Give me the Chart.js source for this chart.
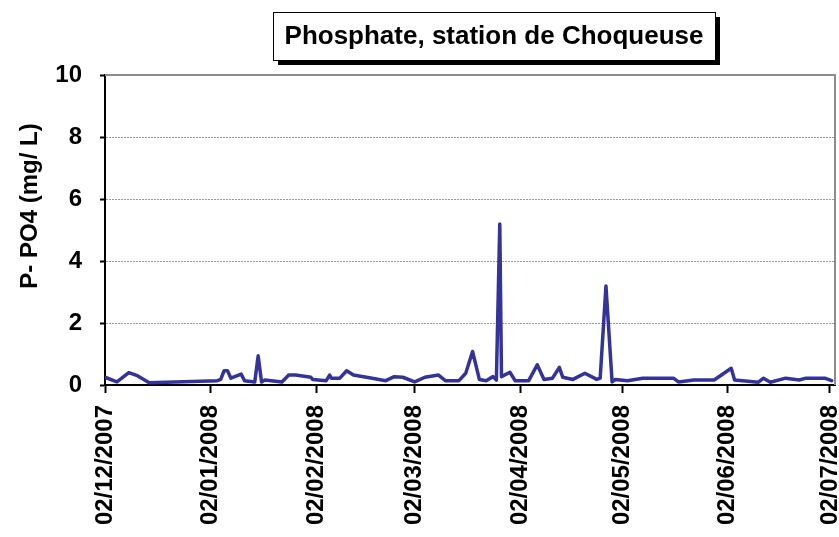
<!DOCTYPE html>
<html>
<head>
<meta charset="utf-8">
<script src="https://cdn.jsdelivr.net/npm/chart.js@4/dist/chart.umd.min.js"></script>
<style>
  html, body { margin: 0; padding: 0; background: #fff; }
  #wrap { width: 839px; height: 537px; }
</style>
</head>
<body>
<div id="wrap"><canvas id="po4Chart" width="839" height="537"></canvas></div>
<script>
// days counted from 02/12/2007
const sampleDays = [0, 3.5, 7, 9.5, 13, 33, 34, 35, 36, 37, 40, 41, 44, 45, 46, 47, 52, 54, 56, 60.5, 61,
  65, 66, 66.5, 69, 71, 73, 78.5, 82.5, 85, 87.5, 91, 94, 98, 100, 104, 106, 108, 110, 112, 114, 115,
  116, 116.5, 119, 120.5, 124.5, 127, 129, 131.5, 133.5, 134.5, 137.5, 141, 144.5, 145.5, 147.2, 149, 150,
  153.5, 158, 167, 168.5, 173, 179, 184, 185, 192, 193.5, 195.5, 200, 204, 206, 211.5, 213.5];
const po4Values = [0.25, 0.1, 0.4, 0.3, 0.07, 0.14, 0.18, 0.46, 0.46, 0.22, 0.35, 0.14, 0.1, 0.94, 0.1, 0.16, 0.1, 0.32, 0.32, 0.25, 0.18,
  0.14, 0.32, 0.22, 0.22, 0.46, 0.32, 0.22, 0.14, 0.27, 0.25, 0.1, 0.25, 0.32, 0.14, 0.14, 0.38, 1.08, 0.18, 0.14, 0.27, 0.16,
  5.19, 0.27, 0.41, 0.14, 0.14, 0.65, 0.18, 0.22, 0.57, 0.25, 0.18, 0.38, 0.18, 0.22, 3.19, 0.1, 0.18,
  0.14, 0.22, 0.22, 0.1, 0.16, 0.16, 0.54, 0.16, 0.09, 0.22, 0.09, 0.22, 0.16, 0.22, 0.22, 0.14];

const tickDays = [0, 31, 62, 91, 122, 152, 183, 213];
const tickLabels = ['02/12/2007', '02/01/2008', '02/02/2008', '02/03/2008', '02/04/2008', '02/05/2008', '02/06/2008', '02/07/2008'];
const yTicks = [0, 2, 4, 6, 8, 10];

const FONT = '"Liberation Sans", Arial, sans-serif';
const LINE = '#333399';

const titleBox = {
  id: 'titleBox',
  afterDraw(chart) {
    const ctx = chart.ctx;
    const x = 273, y = 12, w = 442, h = 48;
    ctx.save();
    ctx.fillStyle = '#000';
    ctx.fillRect(x + 5, y + 5, w, h);
    ctx.fillStyle = '#fff';
    ctx.fillRect(x, y, w, h);
    ctx.strokeStyle = '#000';
    ctx.lineWidth = 1;
    ctx.strokeRect(x + 0.5, y + 0.5, w, h);
    ctx.fillStyle = '#000';
    ctx.font = 'bold 26px ' + FONT;
    ctx.textAlign = 'center';
    ctx.textBaseline = 'middle';
    ctx.fillText('Phosphate, station de Choqueuse', x + w / 2, y + h / 2 + 1);

    // y axis title
    ctx.translate(30, 206);
    ctx.rotate(-Math.PI / 2);
    ctx.font = 'bold 24px ' + FONT;
    ctx.fillText('P- PO4 (mg/ L)', 0, 0);
    ctx.restore();
  },
};

const frameRight = {
  id: 'frameRight',
  beforeDatasetsDraw(chart) {
    const { ctx, chartArea } = chart;
    ctx.save();
    ctx.strokeStyle = '#8c8c8c';
    ctx.lineWidth = 2;
    ctx.beginPath();
    ctx.moveTo(chartArea.left, chartArea.top);
    ctx.lineTo(chartArea.right, chartArea.top);
    ctx.lineTo(chartArea.right, chartArea.bottom);
    ctx.stroke();
    ctx.restore();
  },
};

new Chart(document.getElementById('po4Chart').getContext('2d'), {
  type: 'line',
  data: {
    datasets: [{
      data: sampleDays.map((d, i) => ({ x: d, y: po4Values[i] })),
      borderColor: LINE,
      borderWidth: 3.5,
      borderJoinStyle: 'round',
      borderCapStyle: 'round',
      pointRadius: 0,
      tension: 0,
      fill: false,
    }],
  },
  options: {
    responsive: false,
    animation: false,
    layout: { padding: { top: 75, right: 4, left: 0, bottom: 0 } },
    plugins: { legend: { display: false }, tooltip: { enabled: false }, title: { display: false } },
    scales: {
      x: {
        type: 'linear',
        min: 0,
        max: 214.5,
        afterBuildTicks: (axis) => { axis.ticks = tickDays.map((v) => ({ value: v })); },
        afterFit: (axis) => { axis.height = 152; axis.paddingLeft = 0; axis.paddingRight = 0; },
        ticks: {
          autoSkip: false,
          maxRotation: 90,
          minRotation: 90,
          padding: 12,
          color: '#000',
          font: { family: FONT, size: 24, weight: 'bold' },
          callback: (v) => tickLabels[tickDays.indexOf(v)] ?? '',
        },
        grid: { drawOnChartArea: false, tickLength: 8, tickColor: '#000', tickWidth: 2 },
        border: { color: '#000', width: 2 },
      },
      y: {
        min: 0,
        max: 10,
        afterBuildTicks: (axis) => { axis.ticks = yTicks.map((v) => ({ value: v })); },
        afterFit: (axis) => { axis.width = 105; axis.paddingTop = 0; axis.paddingBottom = 0; },
        ticks: {
          padding: 18,
          color: '#000',
          font: { family: FONT, size: 24, weight: 'bold' },
        },
        grid: {
          color: (c) => (c.tick && (c.tick.value === 0 || c.tick.value === 10) ? 'rgba(0,0,0,0)' : '#9a9a9a'),
          lineWidth: 1,
          tickLength: 5,
          tickColor: '#000',
          tickWidth: 2,
        },
        border: { color: '#000', width: 2, dash: [2, 1] },
      },
    },
  },
  plugins: [frameRight, titleBox],
});
</script>
</body>
</html>
